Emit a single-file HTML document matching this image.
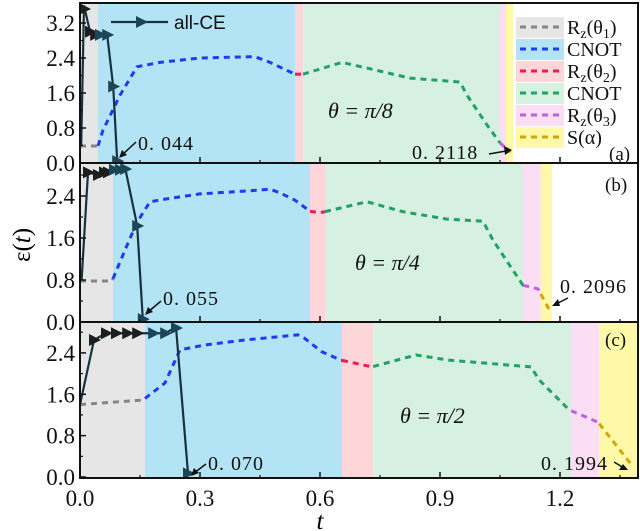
<!DOCTYPE html>
<html><head><meta charset="utf-8"><style>
body{margin:0;background:#fff}
svg{display:block;font-family:"Liberation Serif",serif}
</style></head><body>
<svg id="c" width="640" height="531" viewBox="0 0 640 531"></svg>
<script>
const bgColors=["#e6e6e6","#b3e4f6","#fcd6d9","#d6f0e1","#fbddf4","#fdf9a9"];
const lineColors=["#858585","#1b3cfa","#ee1a5c","#22a262","#b863e0","#d6a400"];
const segNames=["rz-theta1","cnot-1","rz-theta2","cnot-2","rz-theta3","s-alpha"];
// panel a
const bA=[0.045,0.5375,0.5575,1.05,1.065,1.083];
const tA=[0,0.045,0.0575,0.1,0.1425,0.2,0.3,0.4375,0.475,0.5375,0.5575,0.655,0.7175,0.825,0.95,0.9675,1.0175,1.05,1.065,1.08];
const vA=[0.39,0.39,0.75,1.55,2.2,2.3,2.4,2.43,2.3,2.03,2.03,2.3,2.17,1.94,1.85,1.55,0.87,0.46,0.34,0.21];
const ceTA=[0.003,0.01,0.025,0.038,0.05,0.068,0.083,0.093];
const ceVA=[0.4,3.6,3.0,2.93,2.93,2.93,1.75,0.044];
// panel b
const bB=[0.0825,0.575,0.6125,1.108,1.152,1.18];
const tB=[0,0.08,0.1125,0.1425,0.175,0.2125,0.3,0.425,0.475,0.5,0.5375,0.575,0.6,0.7175,0.8075,0.9175,1.0075,1.0325,1.075,1.1075,1.145,1.175];
const vB=[0.78,0.78,1.37,1.9,2.29,2.34,2.44,2.5,2.53,2.46,2.32,2.11,2.08,2.29,2.1,1.96,1.92,1.56,1.07,0.7,0.63,0.21];
const ceTB=[0.004,0.02,0.045,0.06,0.07,0.085,0.1,0.113,0.143,0.157];
const ceVB=[0.8,2.85,2.8,2.85,2.85,2.9,2.9,2.93,1.83,0.055];
// panel c
const bC=[0.1625,0.655,0.733,1.228,1.298,1.4];
const tC=[0,0.1575,0.2125,0.25,0.31,0.4125,0.545,0.56,0.605,0.6525,0.73,0.84,0.9225,1.1275,1.1475,1.2225,1.295,1.3825];
const vC=[1.4,1.49,1.82,2.46,2.55,2.65,2.75,2.69,2.42,2.26,2.13,2.36,2.26,2.13,1.88,1.3,1.06,0.2];
const ceTC=[0,0.035,0.065,0.09,0.118,0.143,0.183,0.213,0.24,0.27];
const ceVC=[1.4,2.65,2.78,2.78,2.78,2.78,2.78,2.78,2.9,0.07];
const yTicksA=["0.0","0.8","1.6","2.4","3.2"];
const yTicksB=["0.0","0.8","1.6","2.4"];
const yTicksC=["0.0","0.8","1.6","2.4"];
const xTicks=["0.0","0.3","0.6","0.9","1.2"];
const legendLabels=["R<tspan font-size='14' dy='4'>z</tspan><tspan dy='-4'>(θ</tspan><tspan font-size='14' dy='4'>1</tspan><tspan dy='-4'>)</tspan>","CNOT","R<tspan font-size='14' dy='4'>z</tspan><tspan dy='-4'>(θ</tspan><tspan font-size='14' dy='4'>2</tspan><tspan dy='-4'>)</tspan>","CNOT","R<tspan font-size='14' dy='4'>z</tspan><tspan dy='-4'>(θ</tspan><tspan font-size='14' dy='4'>3</tspan><tspan dy='-4'>)</tspan>","S(α)"];

const NS="http://www.w3.org/2000/svg";
const svg=document.getElementById('c');
const X0=80,XR=638,KX=400;
const x=t=>X0+KX*t;
function mk(tag,attrs,parent){const e=document.createElementNS(NS,tag);for(const k in attrs)e.setAttribute(k,attrs[k]);(parent||svg).appendChild(e);return e;}

const panels=[
 {id:'a',top:3,y0:163,k:43.75,b:bA,t:tA,v:vA,ct:ceTA,cv:ceVA,ticks:yTicksA},
 {id:'b',top:163,y0:322,k:52.5,b:bB,t:tB,v:vB,ct:ceTB,cv:ceVB,ticks:yTicksB},
 {id:'c',top:322,y0:477,k:51.7,b:bC,t:tC,v:vC,ct:ceTC,cv:ceVC,ticks:yTicksC}
];

panels.forEach(p=>{
 const g=mk('g',{});
 
 
 const y=v=>p.y0-p.k*v;
 const bot=p.id==='c'?478:p.y0;
 let prev=0;
 p.b.forEach((be,i)=>{
  const r=mk('rect',{x:x(prev),y:p.top,width:Math.min(x(be),XR)-x(prev),height:bot-p.top,fill:bgColors[i]},g);
  
  
  prev=be;
 });
 const interp=tt=>{for(let i=0;i<p.t.length-1;i++){if(tt>=p.t[i]&&tt<=p.t[i+1]){const f=(tt-p.t[i])/(p.t[i+1]-p.t[i]);return p.v[i]+f*(p.v[i+1]-p.v[i]);}}return p.v[p.v.length-1];};
 prev=0;
 const tmax=p.t[p.t.length-1];
 p.b.forEach((be,i)=>{
  const e=Math.min(be,tmax);
  if(e<=prev)return;
  const pts=[[prev,interp(prev)]];
  p.t.forEach((tt,j)=>{if(tt>prev&&tt<e)pts.push([tt,p.v[j]]);});
  pts.push([e,interp(e)]);
  const pl=mk('polyline',{points:pts.map(q=>x(q[0])+','+y(q[1])).join(' '),fill:'none',stroke:lineColors[i],'stroke-width':3,'stroke-dasharray':'6 5','stroke-linejoin':'round'},g);
  
  
  prev=be;
 });
 const ce=mk('polyline',{points:p.ct.map((tt,j)=>x(tt)+','+Math.max(y(p.cv[j]),p.top+2)).join(' '),fill:'none',stroke:'#17323f','stroke-width':2.2},g);
 
 
 p.ct.forEach((tt,j)=>{
  if(j===0)return;
  const cx=x(tt),cy=Math.max(y(p.cv[j]),p.top+6);
  const m=mk('polygon',{points:`${cx-5},${cy-6} ${cx+7},${cy} ${cx-5},${cy+6}`,fill:tt<p.b[0]?'#1e1e1e':'#1c4658'},g);
  
  
 });
 const fr=mk('rect',{x:X0,y:p.top,width:XR-X0,height:bot-p.top,fill:'none',stroke:'#111','stroke-width':2},g);
 
 
 p.ticks.forEach(s=>{
  const v=parseFloat(s),yy=y(v);
  mk('line',{x1:X0,x2:X0+6,y1:yy,y2:yy,stroke:'#111','stroke-width':1.5},g);
  mk('line',{x1:X0,x2:X0+3,y1:y(v+0.4),y2:y(v+0.4),stroke:'#111','stroke-width':1.2},g);
  const tx=mk('text',{x:75,y:yy+8,'text-anchor':'end','font-size':23,fill:'#111'},g);
  tx.textContent=s;
  
  
 });
 xTicks.forEach(s=>{
  const xx=x(parseFloat(s));
  mk('line',{x1:xx,x2:xx,y1:bot,y2:bot-6,stroke:'#111','stroke-width':1.5},g);
  mk('line',{x1:xx+60,x2:xx+60,y1:bot,y2:bot-3,stroke:'#111','stroke-width':1.2},g);
 });
});

xTicks.forEach(s=>{
 const tx=mk('text',{x:x(parseFloat(s)),y:506,'text-anchor':'middle','font-size':23,fill:'#111'});
 tx.textContent=s;
 
 
});
</script>
<svg width="640" height="531" style="position:absolute;left:0;top:0" font-family="Liberation Serif, serif">
 <text x="320" y="529" font-size="25" font-style="italic" text-anchor="middle">t</text>
 <text transform="translate(30,245) rotate(-90)" font-size="25" text-anchor="middle">ε(<tspan font-style="italic">t</tspan>)</text>
 <g>
  <line x1="111" y1="22" x2="168" y2="22" stroke="#17323f" stroke-width="2.2"/>
  <polygon points="136,16 148,22 136,28" fill="#1c4658"/>
  <text x="174" y="29" font-family="Liberation Sans, sans-serif" font-size="19" fill="#111">all-CE</text>
 </g>
 <g font-size="20" fill="#111">
  <text x="328" y="118" font-size="22" font-style="italic">θ = π/8</text>
  <text x="355" y="270" font-size="22" font-style="italic">θ = π/4</text>
  <text x="400" y="423" font-size="22" font-style="italic">θ = π/2</text>
  <text x="138" y="150" letter-spacing="1">0. 044</text>
  <line x1="136" y1="142" x2="122" y2="155" stroke="#111" stroke-width="1.5"/><polygon points="119,158 122,150 127,155" fill="#111"/>
  <text x="412" y="159" letter-spacing="1">0. 2118</text>
  <line x1="489" y1="154" x2="506" y2="151" stroke="#111" stroke-width="1.5"/><polygon points="512,150 504,146 505,155" fill="#111"/>
  <text x="163" y="305" letter-spacing="1">0. 055</text>
  <line x1="161" y1="301" x2="148" y2="312" stroke="#111" stroke-width="1.5"/><polygon points="145,315 148,307 153,312" fill="#111"/>
  <text x="560" y="293" letter-spacing="1">0. 2096</text>
  <line x1="568" y1="298" x2="556" y2="304" stroke="#111" stroke-width="1.5"/><polygon points="552,306 558,299 560,306" fill="#111"/>
  <text x="208" y="470" letter-spacing="1">0. 070</text>
  <line x1="206" y1="464" x2="194" y2="473" stroke="#111" stroke-width="1.5"/><polygon points="191,476 194,468 199,473" fill="#111"/>
  <text x="541" y="470" letter-spacing="1">0. 1994</text>
  <line x1="614" y1="462" x2="624" y2="468" stroke="#111" stroke-width="1.5"/><polygon points="628,470 619,470 623,464" fill="#111"/>
  <text x="609" y="160" font-size="19">(a)</text>
  <text x="605" y="191" font-size="19">(b)</text>
  <text x="605" y="346" font-size="19">(c)</text>
 </g>
 <g id="legend"></g>
</svg>
<script>
(function(){
 const lg=document.getElementById('legend');
 const NS2="http://www.w3.org/2000/svg";
 legendLabels.forEach((lab,i)=>{
  const yy=17+i*22;
  const g=document.createElementNS(NS2,'g');
  
  
  const r=document.createElementNS(NS2,'rect');
  r.setAttribute('x',516);r.setAttribute('y',yy);r.setAttribute('width',48);r.setAttribute('height',21);r.setAttribute('fill',bgColors[i]);
  g.appendChild(r);
  const l=document.createElementNS(NS2,'line');
  l.setAttribute('x1',520);l.setAttribute('x2',562);l.setAttribute('y1',yy+10);l.setAttribute('y2',yy+10);
  l.setAttribute('stroke',lineColors[i]);l.setAttribute('stroke-width',3);l.setAttribute('stroke-dasharray','6 5');
  g.appendChild(l);
  const t=document.createElementNS(NS2,'text');
  t.setAttribute('x',567);t.setAttribute('y',yy+17);t.setAttribute('font-size',20);t.setAttribute('fill','#111');
  t.innerHTML=lab;
  g.appendChild(t);
  lg.appendChild(g);
 });
})();
</script>
</body></html>
